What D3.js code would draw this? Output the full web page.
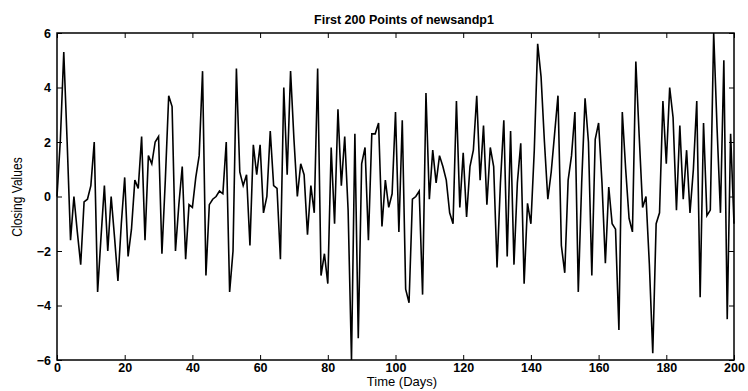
<!DOCTYPE html>
<html>
<head>
<meta charset="utf-8">
<script src="https://cdn.jsdelivr.net/npm/d3@7"></script>
<style>
  body { margin: 0; background: #fff; }
  svg { display: block; }
  .tick text { font-family: "Liberation Sans", Arial, sans-serif; font-size: 12.5px; font-weight: bold; fill: #000; }
  .tick line { stroke: #000; stroke-width: 1; }
  .domain { display: none; }
</style>
</head>
<body>
<svg width="748" height="391"></svg>
<script>
// ---- data ----
// closing values, one per day (day 0 .. 200)
var closingValues = [
   0.0,  2.1,  5.3,  2.0, -1.6,  0.0, -1.3, -2.5, -0.2, -0.1,
   0.4,  2.0, -3.5, -1.5,  0.4, -2.0,  0.0, -1.5, -3.1, -1.0,
   0.7, -2.2, -1.2,  0.6,  0.3,  2.2, -1.6,  1.5,  1.2,  2.0,
   2.2, -2.1,  0.6,  3.7,  3.3, -2.0, -0.3,  1.1, -2.3, -0.3,
  -0.4,  0.7,  1.5,  4.6, -2.9, -0.3, -0.1,  0.0,  0.2,  0.1,
   2.0, -3.5, -2.0,  4.7,  0.9,  0.4,  0.8, -1.8,  1.9,  0.8,
   1.9, -0.6,  0.0,  2.4,  0.4,  0.3, -2.3,  4.0,  0.8,  4.6,
   2.1,  0.0,  1.2,  0.8, -1.4,  0.4, -0.6,  4.7, -2.9, -2.1,
  -3.2,  1.8, -1.0,  3.2,  0.4,  2.2, -0.5, -6.0,  2.3, -5.2,
   1.2,  1.8, -1.6,  2.3,  2.3,  2.7, -1.1,  0.6, -0.4,  0.1,
   3.1, -1.3,  2.8, -3.4, -3.9, -0.1,  0.0,  0.2, -3.6,  3.8,
  -0.1,  1.7,  0.5,  1.5,  1.1,  0.6, -0.6, -1.0,  3.5, -0.4,
   1.6, -0.75, 1.1,  1.7,  3.7,  0.6,  2.6, -0.3,  1.8,  1.1,
  -2.6,  0.5,  2.8, -2.2,  2.4, -2.5,  0.5,  1.95, -3.2, -0.25,
  -1.0,  1.7,  5.6,  4.4,  2.0, -0.1,  0.9,  2.3,  3.7, -1.8,
  -2.8,  0.6,  1.5,  3.1, -3.5,  0.5,  3.6,  2.0, -2.9,  2.1,
   2.7,  0.5, -2.45, 0.35, -1.0, -1.2, -4.9,  3.1,  1.0, -0.8,
  -1.3,  4.95, 2.2, -0.4,  0.0, -2.5, -5.75, -1.0, -0.6,  3.5,
   1.2,  4.0,  2.9, -0.5,  2.6, -0.1,  1.7, -0.6,  1.0,  3.5,
  -3.7,  2.7, -0.7, -0.5,  6.0,  2.5, -0.6,  5.0, -4.5,  2.3,
  -1.0
];
var xTicks = [0, 20, 40, 60, 80, 100, 120, 140, 160, 180, 200];
var yTicks = [-6, -4, -2, 0, 2, 4, 6];

var svg = d3.select('svg');

// scales
var xScale = d3.scaleLinear().domain([0, 200]).range([57, 734]);
var yScale = d3.scaleLinear().domain([-6, 6]).range([360, 33]);

// series line
var line = d3.line()
    .x(function(d, i) { return xScale(i); })
    .y(function(d) { return yScale(d); });

svg.append('path')
    .datum(closingValues)
    .attr('d', line)
    .attr('fill', 'none')
    .attr('stroke', '#000')
    .attr('stroke-width', 1.6)
    .attr('stroke-linejoin', 'miter');

// axes, ticks pointing inward on all four sides
svg.append('g')
    .attr('transform', 'translate(0,360)')
    .call(d3.axisBottom(xScale).tickValues(xTicks).tickSizeInner(-5).tickSizeOuter(0).tickPadding(3));
svg.append('g')
    .attr('transform', 'translate(0,33)')
    .call(d3.axisTop(xScale).tickValues(xTicks).tickSizeInner(-5).tickSizeOuter(0).tickFormat(''));
svg.append('g')
    .attr('transform', 'translate(57,0)')
    .call(d3.axisLeft(yScale).tickValues(yTicks).tickSizeInner(-5).tickSizeOuter(0).tickPadding(6)
        .tickFormat(function(d) { return d < 0 ? '\u2212' + Math.abs(d) : d; }));
svg.append('g')
    .attr('transform', 'translate(734,0)')
    .call(d3.axisRight(yScale).tickValues(yTicks).tickSizeInner(-5).tickSizeOuter(0).tickFormat(''));

// box
svg.append('rect')
    .attr('x', 57).attr('y', 33)
    .attr('width', 734 - 57).attr('height', 360 - 33)
    .attr('fill', 'none')
    .attr('stroke', '#000')
    .attr('stroke-width', 1.5);

// title and labels
svg.append('text')
    .attr('x', 404).attr('y', 24)
    .attr('text-anchor', 'middle')
    .style('font-family', '"Liberation Sans", Arial, sans-serif')
    .style('font-size', '12.5px')
    .style('font-weight', 'bold')
    .text('First 200 Points of newsandp1');

svg.append('text')
    .attr('x', 402).attr('y', 386)
    .attr('text-anchor', 'middle')
    .style('font-family', '"Liberation Sans", Arial, sans-serif')
    .style('font-size', '13px')
    .text('Time (Days)');

svg.append('text')
    .attr('transform', 'translate(22,197) rotate(-90) scale(0.86,1)')
    .attr('text-anchor', 'middle')
    .style('font-family', '"Liberation Sans", Arial, sans-serif')
    .style('font-size', '14px')
    .text('Closing Values');
</script>
</body>
</html>
